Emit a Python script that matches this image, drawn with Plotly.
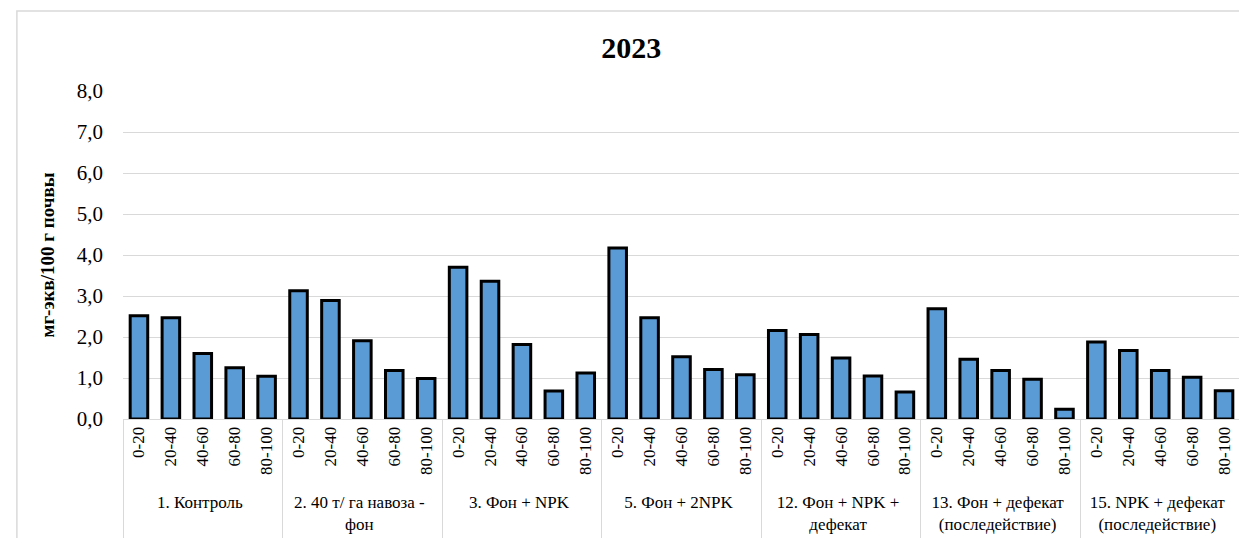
import plotly.graph_objects as go

groups = [
    "1. Контроль",
    "2. 40 т/ га навоза -<br>фон",
    "3. Фон + NPK",
    "5. Фон + 2NPK",
    "12. Фон + NPK +<br>дефекат<br>(последействие)",
    "13. Фон + дефекат<br>(последействие)",
    "15. NPK + дефекат<br>(последействие)",
]
depths = ["0-20", "20-40", "40-60", "60-80", "80-100"]

g1 = [2.52, 2.47, 1.60, 1.25, 1.04]
g2 = [3.13, 2.89, 1.91, 1.18, 0.99]
g3 = [3.70, 3.36, 1.82, 0.68, 1.12]
g5 = [4.17, 2.47, 1.52, 1.21, 1.08]
g12 = [2.16, 2.06, 1.49, 1.05, 0.66]
g13 = [2.69, 1.46, 1.18, 0.97, 0.24]
g15 = [1.88, 1.67, 1.18, 1.02, 0.69]

series = [g1, g2, g3, g5, g12, g13, g15]

x_group = [g for g in groups for _ in depths]
x_depth = [d for _ in groups for d in depths]
y_vals = [v for s in series for v in s]

serif = "Liberation Serif, serif"

fig = go.Figure(
    go.Bar(
        x=[x_group, x_depth],
        y=y_vals,
        marker=dict(color="#5B9BD5", line=dict(color="black", width=3)),
    )
)

# page body adds an 8px offset, so the figure is 8px smaller than the window
W, H = 1239, 530
fig.update_layout(
    width=W,
    height=H,
    paper_bgcolor="white",
    plot_bgcolor="white",
    separators=", ",
    bargap=0.45,
    showlegend=False,
    margin=dict(l=115, r=7, t=83, b=119, autoexpand=False),
    font=dict(family=serif, color="black"),
    title=dict(
        text="<b>2023</b>",
        x=0.503,
        xanchor="center",
        yref="container",
        y=1 - 39 / H,
        yanchor="middle",
        font=dict(family=serif, size=30, color="black"),
    ),
)

fig.update_yaxes(
    range=[0, 8],
    dtick=1,
    tickformat=".1f",
    showgrid=True,
    gridcolor="#D9D9D9",
    gridwidth=1,
    zeroline=False,
    showline=False,
    ticks="",
    ticklabelstandoff=19,
    tickfont=dict(family=serif, size=21, color="black"),
    title=dict(
        text="<b>мг-экв/100 г почвы</b>",
        font=dict(family=serif, size=19, color="black"),
        standoff=17,
    ),
    automargin=False,
)

fig.update_xaxes(
    type="multicategory",
    tickangle=-90,
    tickfont=dict(family=serif, size=17, color="black"),
    showline=True,
    linecolor="#D9D9D9",
    linewidth=1,
    showdividers=True,
    dividercolor="#D9D9D9",
    dividerwidth=1,
    ticks="",
    automargin=False,
)

# outer chart-area border (Excel style)
fig.add_shape(
    type="rect",
    xref="paper",
    yref="paper",
    x0=-0.095,
    x1=1.03,
    y0=-0.6,
    y1=1.244,
    line=dict(color="#D9D9D9", width=1.5),
    fillcolor="rgba(0,0,0,0)",
    layer="below",
)

fig.write_html("out.html")
